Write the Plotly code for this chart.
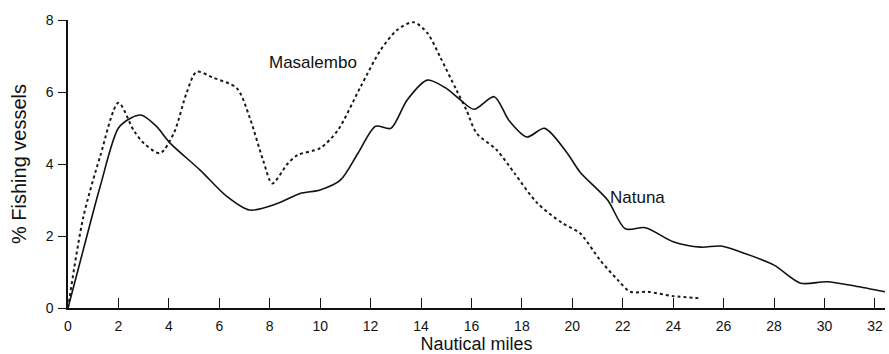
import plotly.graph_objects as go

# Natuna (solid)
natuna_x = [0, 0.6, 1.27, 2.0, 2.5, 2.9, 3.5, 4.05, 5.24, 6.3, 7.2, 8.3, 9.2, 10.0, 10.8, 11.5,
            12.2, 12.8, 13.45, 14.25, 15.0, 15.56, 16.1, 16.9, 17.5, 18.2, 18.9, 19.8, 20.3,
            21.4, 22.1, 22.9, 24.0, 25.1, 25.9, 26.9, 28.0, 29.05, 30.1, 31.2, 32.4]
natuna_y = [0, 1.6, 3.36, 5.0, 5.28, 5.36, 5.05, 4.58, 3.83, 3.1, 2.72, 2.9, 3.18, 3.28, 3.55, 4.3,
            5.05, 4.99, 5.78, 6.33, 6.1, 5.78, 5.52, 5.87, 5.2, 4.75, 4.99, 4.3, 3.78,
            3.0, 2.2, 2.23, 1.84, 1.69, 1.72, 1.5, 1.19, 0.69, 0.73, 0.61, 0.45]

# Masalembo (dotted)
masal_x = [0, 0.6, 1.27, 2.0, 2.6, 3.0, 3.65, 4.2, 4.7, 5.1, 5.75, 6.7, 7.2, 7.74, 8.1, 8.7, 9.1,
           10.0, 10.7, 11.6, 12.4, 13.05, 13.7, 14.25, 14.76, 15.4, 15.8, 16.2, 17.0, 17.7,
           18.6, 19.6, 20.3, 21.1, 21.8, 22.3, 23.0, 24.0, 25.1]
masal_y = [0, 2.5, 4.2, 5.7, 4.94, 4.58, 4.3, 4.86, 5.97, 6.56, 6.4, 6.1, 5.3, 4.1, 3.46, 4.0, 4.25,
           4.44, 4.94, 6.14, 7.17, 7.72, 7.94, 7.64, 6.97, 6.06, 5.5, 4.86, 4.39, 3.75,
           2.92, 2.36, 2.08, 1.33, 0.78, 0.45, 0.45, 0.33, 0.27]

x_ticks = list(range(0, 33, 2))
y_ticks = [0, 2, 4, 6, 8]

font = "Liberation Sans, Arial, sans-serif"

fig = go.Figure()
fig.add_trace(go.Scatter(x=masal_x, y=masal_y, mode="lines",
                         line=dict(color="#1a1a1a", width=2, dash="dot", shape="spline", smoothing=0.8),
                         showlegend=False))
fig.add_trace(go.Scatter(x=natuna_x, y=natuna_y, mode="lines",
                         line=dict(color="#111111", width=1.6, shape="spline", smoothing=0.8),
                         showlegend=False))

fig.add_annotation(x=7.9, y=6.83, text="Masalembo", showarrow=False, xanchor="left",
                   font=dict(family=font, size=17, color="#111"))
fig.add_annotation(x=21.4, y=3.08, text="Natuna", showarrow=False, xanchor="left",
                   font=dict(family=font, size=17, color="#111"))

fig.update_layout(
    width=889, height=354,
    margin=dict(l=68, r=4, t=20, b=46),
    plot_bgcolor="white", paper_bgcolor="white",
    font=dict(family=font, size=14, color="#111"),
)
fig.update_xaxes(range=[0, 32.4], tickvals=x_ticks, ticks="inside", ticklen=10, tickwidth=1.2,
                 tickcolor="#111", showline=True, linecolor="#111", linewidth=1.5,
                 showgrid=False, zeroline=False, automargin=False, ticklabelstandoff=4,
                 title=dict(text="Nautical miles", font=dict(size=18), standoff=5))
fig.update_yaxes(range=[0, 8], tickvals=y_ticks, ticks="outside", ticklen=8, tickwidth=1.2,
                 tickcolor="#111", showline=True, linecolor="#111", linewidth=1.5,
                 showgrid=False, zeroline=False, automargin=False, ticklabelstandoff=2,
                 title=dict(text="% Fishing vessels", font=dict(size=20), standoff=14))

fig.write_html("out.html")
